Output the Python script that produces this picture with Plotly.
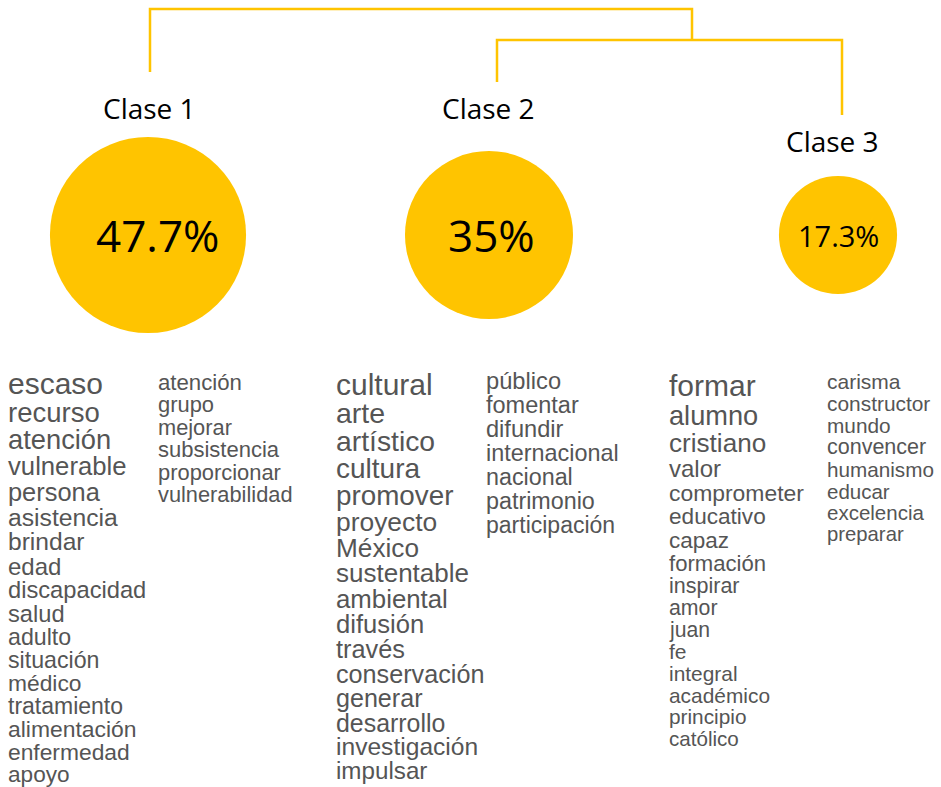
import plotly.graph_objects as go

# ---------------- DATA ----------------
clases = ["Clase 1", "Clase 2", "Clase 3"]
porcentajes = [47.7, 35.0, 17.3]
etiquetas_pct = ["47.7%", "35%", "17.3%"]

# words per class (two columns each) and their relative weight
palabras_c1_a = ["escaso", "recurso", "atención", "vulnerable", "persona", "asistencia",
                 "brindar", "edad", "discapacidad", "salud", "adulto", "situación",
                 "médico", "tratamiento", "alimentación", "enfermedad", "apoyo"]
peso_c1_a = [30, 27.5, 27.3, 25.7, 25.4, 24.7, 24.6, 24.0, 23.7, 23.7, 23.2, 23.2,
             22.8, 23.0, 22.9, 22.8, 22.6]
palabras_c1_b = ["atención", "grupo", "mejorar", "subsistencia", "proporcionar", "vulnerabilidad"]
peso_c1_b = [22.2, 21.9, 21.8, 22.0, 21.9, 21.8]

palabras_c2_a = ["cultural", "arte", "artístico", "cultura", "promover", "proyecto", "México",
                 "sustentable", "ambiental", "difusión", "través", "conservación", "generar",
                 "desarrollo", "investigación", "impulsar"]
peso_c2_a = [30, 28.5, 28.3, 28.0, 27.8, 26.4, 26.2, 26.0, 25.8, 25.6, 25.3, 25.2, 25.1,
             24.9, 24.6, 24.2]
palabras_c2_b = ["público", "fomentar", "difundir", "internacional", "nacional", "patrimonio",
                 "participación"]
peso_c2_b = [23.7, 23.5, 23.6, 23.4, 23.3, 23.3, 23.0]

palabras_c3_a = ["formar", "alumno", "cristiano", "valor", "comprometer", "educativo", "capaz",
                 "formación", "inspirar", "amor", "juan", "fe", "integral", "académico",
                 "principio", "católico"]
peso_c3_a = [30, 27.2, 26.1, 24.0, 22.9, 22.6, 22.5, 22.1, 21.5, 21.3, 21.2, 21.0, 20.9,
             20.9, 20.8, 20.6]
palabras_c3_b = ["carisma", "constructor", "mundo", "convencer", "humanismo", "educar",
                 "excelencia", "preparar"]
peso_c3_b = [21.0, 20.9, 20.8, 21.5, 20.7, 20.5, 20.5, 20.3]

# ---------------- LAYOUT ----------------
W, H = 941, 787
YELLOW = "#FFC400"
WORD_COLOR = "#555555"
CLASS_X = [148, 489, 838]
CIRCLE_Y = 235
R_PER_SQRT = 14.2           # circle radius = R_PER_SQRT * sqrt(percentage)
PCT_FONT = [44, 44, 29]
PCT_XSHIFT = [9, 2, 0]
LABEL_XSHIFT = [1, -1, -6]
LABEL_Y = [108, 108, 141]
LABEL_FONT = 28

# dendrogram geometry
LEAF_X = [150, 497, 842]
LEAF_BOTTOM = [72, 82, 115]
JOIN_23_Y = 40
JOIN_ALL_Y = 9
JOIN_23_X = 692

columnas = [
    (palabras_c1_a, peso_c1_a, 6, 386, 1.00),
    (palabras_c1_b, peso_c1_b, 156, 384, 1.03),
    (palabras_c2_a, peso_c2_a, 334, 387, 0.977),
    (palabras_c2_b, peso_c2_b, 484, 383, 1.026),
    (palabras_c3_a, peso_c3_a, 667, 388, 1.034),
    (palabras_c3_b, peso_c3_b, 825, 383, 1.05),
]

fig = go.Figure()

# dendrogram
dx = [LEAF_X[0], LEAF_X[0], JOIN_23_X, JOIN_23_X, None,
      LEAF_X[1], LEAF_X[1], LEAF_X[2], LEAF_X[2]]
dy = [LEAF_BOTTOM[0], JOIN_ALL_Y, JOIN_ALL_Y, JOIN_23_Y, None,
      LEAF_BOTTOM[1], JOIN_23_Y, JOIN_23_Y, LEAF_BOTTOM[2]]
fig.add_trace(go.Scatter(x=dx, y=dy, mode="lines",
                         line=dict(color=YELLOW, width=2.5),
                         hoverinfo="skip", showlegend=False))

# circles (area proportional to percentage)
fig.add_trace(go.Scatter(
    x=CLASS_X, y=[CIRCLE_Y] * len(clases), mode="markers",
    marker=dict(size=porcentajes, sizemode="area",
                sizeref=1.0 / (2 * R_PER_SQRT ** 2),
                color=YELLOW, line=dict(width=0), opacity=1),
    text=clases, hoverinfo="text", showlegend=False))

annotations = []
for i, c in enumerate(clases):
    annotations.append(dict(x=CLASS_X[i], y=CIRCLE_Y, xref="x", yref="y",
                            text=etiquetas_pct[i], showarrow=False, xshift=PCT_XSHIFT[i],
                            font=dict(family="Open Sans", size=PCT_FONT[i], color="#000000"),
                            xanchor="center", yanchor="middle"))
    annotations.append(dict(x=CLASS_X[i], y=LABEL_Y[i], xref="x", yref="y",
                            text=c, showarrow=False, xshift=LABEL_XSHIFT[i],
                            font=dict(family="Open Sans", size=LABEL_FONT, color="#000000"),
                            xanchor="center", yanchor="middle"))

for palabras, pesos, x0, y0, k in columnas:
    yc = y0
    for j, (w, s) in enumerate(zip(palabras, pesos)):
        if j > 0:
            yc += k * (pesos[j - 1] + s) / 2.0
        annotations.append(dict(x=x0, y=yc - 0.0875 * s, xref="x", yref="y",
                                text=w, showarrow=False,
                                font=dict(family="Liberation Sans, Arial", size=s, color=WORD_COLOR),
                                xanchor="left", yanchor="middle"))

fig.update_layout(
    width=W, height=H,
    margin=dict(l=0, r=0, t=0, b=0),
    paper_bgcolor="#ffffff", plot_bgcolor="#ffffff",
    xaxis=dict(range=[0, W], visible=False, fixedrange=True),
    yaxis=dict(range=[H, 0], visible=False, fixedrange=True),
    annotations=annotations,
    showlegend=False,
)

fig.write_html(
    "out.html",
    config={"displayModeBar": False},
    post_script="document.body.style.margin='0';document.body.style.padding='0';"
                "document.body.style.overflow='hidden';",
)
